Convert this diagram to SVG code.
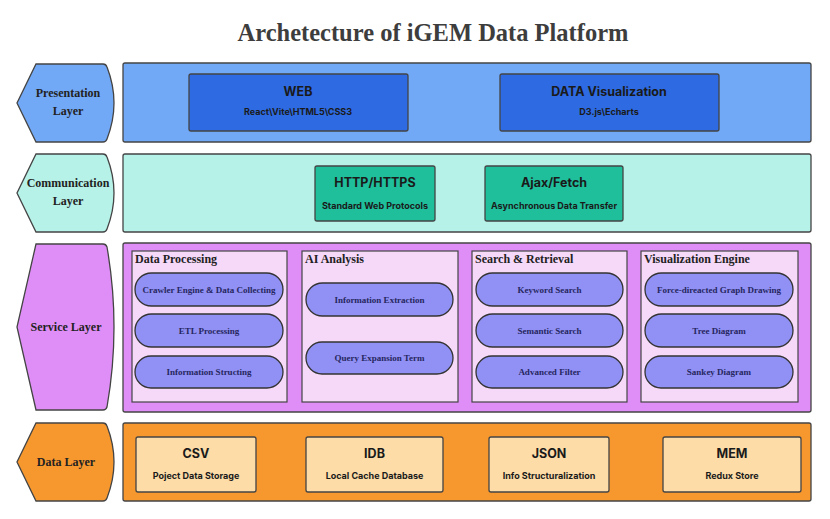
<svg xmlns="http://www.w3.org/2000/svg" width="830" height="519" viewBox="0 0 830 519">
<style>
  .title{font-family:"Liberation Serif",serif;font-weight:bold;font-size:24.5px;fill:#3d3d3d;text-anchor:middle}
  .lbl{font-family:"Liberation Serif",serif;font-weight:bold;font-size:12px;fill:#222;text-anchor:middle}
  .edge{stroke:#444;stroke-width:1.3}
  .bt{font-family:Inter,"Liberation Sans",sans-serif;font-weight:bold;font-size:12.5px;fill:#1a1a1a;text-anchor:middle}
  .bs{font-family:Inter,"Liberation Sans",sans-serif;font-weight:bold;font-size:9px;fill:#1a1a1a;text-anchor:middle}
  .pt{font-family:"Liberation Serif",serif;font-weight:bold;font-size:12px;fill:#222}
  .pill{fill:#9191f5;stroke:#333;stroke-width:1.3}
  .pl{font-family:"Liberation Serif",serif;font-weight:bold;font-size:9px;fill:#262660;text-anchor:middle}
  .panel{fill:#f6d9f9;stroke:#444;stroke-width:1.2}
</style>
<rect width="830" height="519" fill="#ffffff"/>
<text class="title" x="433" y="41">Archetecture of iGEM Data Platform</text>

<g id="presentation-layer">
  <path class="edge" fill="#72a9f7" d="M36,64 L103,64 Q106,64 107,67 Q121,103 107,139 Q106,142 103,142 L36,142 L17,103 Z"/>
  <text class="lbl" x="68" y="97">Presentation</text>
  <text class="lbl" x="68" y="115">Layer</text>
  <rect class="edge" x="123" y="63" width="688" height="79" rx="2" fill="#72a9f7"/>
</g>
<g id="web">
  <rect class="edge" x="189" y="74" width="219" height="57" rx="2" fill="#2e6be2" stroke="#1d3f85"/>
  <text class="bt" x="298" y="96">WEB</text>
  <text class="bs" x="298" y="115">React\Vite\HTML5\CSS3</text>
</g>
<g id="data-visualization">
  <rect class="edge" x="500" y="74" width="219" height="57" rx="2" fill="#2e6be2" stroke="#1d3f85"/>
  <text class="bt" x="609" y="96">DATA Visualization</text>
  <text class="bs" x="609" y="115">D3.js\Echarts</text>
</g>

<g id="communication-layer">
  <path class="edge" fill="#b6f2e8" d="M36,154 L103,154 Q106,154 107,157 Q121,193 107,229 Q106,232 103,232 L36,232 L17,193 Z"/>
  <text class="lbl" x="68" y="187">Communication</text>
  <text class="lbl" x="68" y="205">Layer</text>
  <rect class="edge" x="123" y="154" width="688" height="78" rx="2" fill="#b6f2e8"/>
</g>
<g id="http">
  <rect class="edge" x="315" y="166" width="120" height="55" rx="2" fill="#1fbf9c" stroke="#1f4a40"/>
  <text class="bt" x="375" y="187">HTTP/HTTPS</text>
  <text class="bs" x="375" y="209">Standard Web Protocols</text>
</g>
<g id="ajax">
  <rect class="edge" x="485" y="166" width="138" height="55" rx="2" fill="#1fbf9c" stroke="#1f4a40"/>
  <text class="bt" x="554" y="187">Ajax/Fetch</text>
  <text class="bs" x="554" y="209">Asynchronous Data Transfer</text>
</g>

<g id="service-layer">
  <path class="edge" fill="#e08ef7" d="M36,244 L103,244 Q106,244 107,247 Q121,327 107,407 Q106,410 103,410 L36,410 L17,327 Z"/>
  <text class="lbl" x="66" y="331">Service Layer</text>
  <rect class="edge" x="123" y="243" width="688" height="169" rx="2" fill="#e08ef7"/>
</g>
<g id="data-processing">
  <rect class="panel" x="132" y="251" width="155" height="151"/>
  <text class="pt" x="135" y="263">Data Processing</text>
  <rect class="pill" x="135" y="273" width="148" height="33" rx="16.5"/>
  <text class="pl" x="209" y="292.5">Crawler Engine &amp; Data Collecting</text>
  <rect class="pill" x="135" y="314" width="148" height="33" rx="16.5"/>
  <text class="pl" x="209" y="333.5">ETL Processing</text>
  <rect class="pill" x="135" y="356" width="148" height="32" rx="16"/>
  <text class="pl" x="209" y="375">Information Structing</text>
</g>
<g id="ai-analysis">
  <rect class="panel" x="302" y="251" width="156" height="151"/>
  <text class="pt" x="305" y="263">AI Analysis</text>
  <rect class="pill" x="306" y="283" width="147" height="33" rx="16.5"/>
  <text class="pl" x="379.5" y="302.5">Information Extraction</text>
  <rect class="pill" x="306" y="342" width="147" height="32" rx="16"/>
  <text class="pl" x="379.5" y="361">Query Expansion Term</text>
</g>
<g id="search-retrieval">
  <rect class="panel" x="472" y="251" width="155" height="151"/>
  <text class="pt" x="475" y="263">Search &amp; Retrieval</text>
  <rect class="pill" x="476" y="273" width="147" height="33" rx="16.5"/>
  <text class="pl" x="549.5" y="292.5">Keyword Search</text>
  <rect class="pill" x="476" y="314" width="147" height="33" rx="16.5"/>
  <text class="pl" x="549.5" y="333.5">Semantic Search</text>
  <rect class="pill" x="476" y="356" width="147" height="32" rx="16"/>
  <text class="pl" x="549.5" y="375">Advanced Filter</text>
</g>
<g id="visualization-engine">
  <rect class="panel" x="641" y="251" width="157" height="151"/>
  <text class="pt" x="644" y="263">Visualization Engine</text>
  <rect class="pill" x="645" y="273" width="148" height="33" rx="16.5"/>
  <text class="pl" x="719" y="292.5">Force-direacted Graph Drawing</text>
  <rect class="pill" x="645" y="314" width="148" height="33" rx="16.5"/>
  <text class="pl" x="719" y="333.5">Tree Diagram</text>
  <rect class="pill" x="645" y="356" width="148" height="32" rx="16"/>
  <text class="pl" x="719" y="375">Sankey Diagram</text>
</g>

<g id="data-layer">
  <path class="edge" fill="#f7982f" d="M36,423 L103,423 Q106,423 107,426 Q121,462 107,498 Q106,501 103,501 L36,501 L17,462 Z"/>
  <text class="lbl" x="66" y="466">Data Layer</text>
  <rect class="edge" x="123" y="423" width="688" height="78" rx="2" fill="#f7982f"/>
</g>
<g id="csv">
  <rect class="edge" x="136" y="437" width="120" height="55" rx="2" fill="#fddca8" stroke="#4a3010"/>
  <text class="bt" x="196" y="458">CSV</text>
  <text class="bs" x="196" y="479">Poject Data Storage</text>
</g>
<g id="idb">
  <rect class="edge" x="306" y="437" width="137" height="55" rx="2" fill="#fddca8" stroke="#4a3010"/>
  <text class="bt" x="374.5" y="458">IDB</text>
  <text class="bs" x="374.5" y="479">Local Cache Database</text>
</g>
<g id="json">
  <rect class="edge" x="489" y="437" width="120" height="55" rx="2" fill="#fddca8" stroke="#4a3010"/>
  <text class="bt" x="549" y="458">JSON</text>
  <text class="bs" x="549" y="479">Info Structuralization</text>
</g>
<g id="mem">
  <rect class="edge" x="663" y="437" width="138" height="55" rx="2" fill="#fddca8" stroke="#4a3010"/>
  <text class="bt" x="732" y="458">MEM</text>
  <text class="bs" x="732" y="479">Redux Store</text>
</g>
<g id="connectors"></g>
</svg>
